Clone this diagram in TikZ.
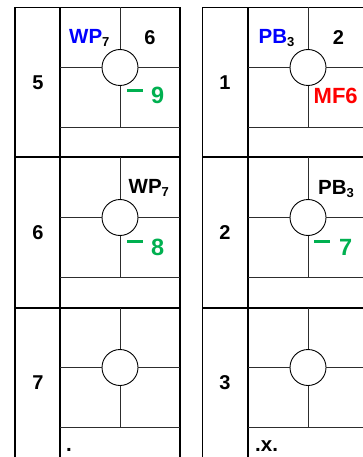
\documentclass[tikz,border=0pt]{standalone}
\usepackage{fontspec}
\setmainfont{Liberation Sans}
\definecolor{lblue}{RGB}{0,0,255}
\definecolor{lgreen}{RGB}{0,176,80}
\definecolor{lred}{RGB}{255,0,0}
\definecolor{gridgray}{RGB}{45,45,45}
\newcommand{\subsc}[1]{\raisebox{-3pt}{\fontsize{13}{14}\selectfont\color{black}#1}}
\newcommand{\gdash}{\rule[12pt]{16pt}{2.7pt}}
\begin{document}
\begin{tikzpicture}[x=1pt,y=-1pt,
  frame/.style={line width=1.4pt, black},
  sepline/.style={line width=2pt, black},
  gridline/.style={line width=1pt, gridgray},
  circ/.style={circle, draw, line width=0.9pt, minimum size=36pt, inner sep=0pt},
  lbl/.style={inner sep=0pt, anchor=base west, font=\bfseries\fontsize{20.5}{24}\selectfont},
  num/.style={inner sep=0pt, anchor=center, font=\bfseries\fontsize{20}{22}\selectfont},
  grn/.style={lbl, text=lgreen, font=\bfseries\fontsize{23.5}{26}\selectfont},
]
\useasboundingbox (0,0) rectangle (363,457);
\clip (0,0) rectangle (363,457);
% columns: x0, x1, xc, x2, name
\foreach \xa/\xb/\xc/\xd/\cn in {15/60/120/180/L, 202.5/248/308/368/R}{
  \draw[frame] (\xa,7.5) -- (\xd,7.5);
  \draw[frame] (\xa,7.5) -- (\xa,470);
  \draw[sepline] (\xb,7.5) -- (\xb,470);
  \draw[sepline] (\xd,7.5) -- (\xd,470);
  \foreach \s in {157.5,307.5,457.5}{
    \draw[sepline] (\xa,\s) -- (\xd,\s);
  }
  \foreach \i in {0,1,2}{
    \pgfmathsetmacro{\t}{7.5+150*\i}
    \pgfmathsetmacro{\m}{\t+60}
    \pgfmathsetmacro{\l}{\t+120}
    \node[circ] (c\cn\i) at (\xc,\m) {};
    \draw[gridline] (\xb,\m) -- (c\cn\i.west);
    \draw[gridline] (c\cn\i.east) -- (\xd,\m);
    \draw[gridline] (\xc,\t) -- (c\cn\i.north);
    \draw[gridline] (c\cn\i.south) -- (\xc,\l);
    \draw[gridline] (\xb,\l) -- (\xd,\l);
  }
}
% row numbers
\node[num] (nL0) at (38,83) {5};
\node[num] (nL1) at (38,233) {6};
\node[num] (nL2) at (38,383) {7};
\node[num] (nR0) at (225,83) {1};
\node[num] (nR1) at (225,233) {2};
\node[num] (nR2) at (225,383) {3};
% row 1
\node[lbl, text=lblue] (wp1) at (69,44) {WP\subsc{7}};
\node[num, anchor=base] (six) at (150,45) {6};
\node[grn] (g9) at (127,104) {\gdash\hspace{8pt}9};
\node[lbl, text=lblue] (pb1) at (258.5,44) {PB\subsc{3}};
\node[num, anchor=base] (two) at (338.5,45) {2};
\node[lbl, text=lred, font=\bfseries\fontsize{22}{24}\selectfont] (mf6) at (313.5,104) {MF6};
% row 2
\node[lbl] (wp2) at (128.5,193) {WP\subsc{7}};
\node[grn] (g8) at (127,255) {\gdash\hspace{8pt}8};
\node[lbl] (pb2) at (318,194) {PB\subsc{3}};
\node[grn] (g7) at (314,255) {\gdash\hspace{9pt}7};
% row 3
\node[lbl] (dot) at (66,451) {.};
\node[lbl] (dxd) at (255,451) {.x.};
\end{tikzpicture}
\end{document}
